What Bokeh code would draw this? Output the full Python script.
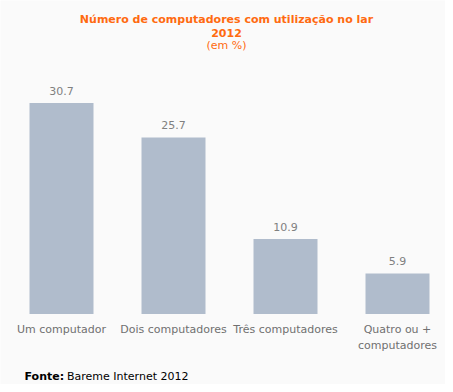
from bokeh.plotting import figure
from bokeh.models import Range1d, Label, ColumnDataSource
from bokeh.embed import file_html
from bokeh.resources import INLINE
from bokeh.core.properties import value

categories = ["Um computador", "Dois computadores", "Três computadores", "Quatro ou +\ncomputadores"]
values = [30.7, 25.7, 10.9, 5.9]
value_labels = ["30.7", "25.7", "10.9", "5.9"]

W, H = 445, 384
px_per_cat = 112.0
px_per_unit = 6.87
x_start = -61.0 / px_per_cat
y_start = -(H - 313.5) / px_per_unit

p = figure(width=W, height=H, output_backend="svg", toolbar_location=None,
           x_range=Range1d(x_start, x_start + W / px_per_cat),
           y_range=Range1d(y_start, y_start + H / px_per_unit),
           min_border=0, outline_line_color=None,
           background_fill_color="#fafafa", border_fill_color="#fafafa")
p.axis.visible = False
p.grid.visible = False

idx = list(range(len(categories)))
src = ColumnDataSource(dict(x=idx, top=values, cat=categories, lab=value_labels,
                            zero=[0] * len(idx)))

p.vbar(x="x", top="top", bottom=0, width=64 / px_per_cat, source=src,
       fill_color="#b0bccc", line_color=None)

font = value("DejaVu Sans")
p.text(x="x", y="top", text="lab", source=src, text_align="center",
       text_baseline="middle", y_offset=-12, text_font=font,
       text_font_size="11px", text_color="#808080")
p.text(x="x", y="zero", text="cat", source=src, text_align="center",
       text_baseline="top", y_offset=9, text_font=font,
       text_font_size="11px", text_color="#707070", text_line_height=1.2)

title_color = "#ff6a10"
cx = 226
p.add_layout(Label(x=cx, y=H - 19, x_units="screen", y_units="screen",
                   text="Número de computadores com utilização no lar",
                   text_align="center", text_baseline="middle",
                   text_font="DejaVu Sans", text_font_size="11px",
                   text_font_style="bold", text_color=title_color))
p.add_layout(Label(x=cx, y=H - 32, x_units="screen", y_units="screen",
                   text="2012", text_align="center", text_baseline="middle",
                   text_font="DejaVu Sans", text_font_size="11px",
                   text_font_style="bold", text_color=title_color))
p.add_layout(Label(x=cx, y=H - 45, x_units="screen", y_units="screen",
                   text="(em %)", text_align="center", text_baseline="middle",
                   text_font="DejaVu Sans", text_font_size="11px",
                   text_color=title_color))

p.add_layout(Label(x=24, y=H - 376, x_units="screen", y_units="screen",
                   text="Fonte:", text_align="left", text_baseline="middle",
                   text_font="DejaVu Sans", text_font_size="11px",
                   text_font_style="bold", text_color="#000000"))
p.add_layout(Label(x=66.5, y=H - 376, x_units="screen", y_units="screen",
                   text="Bareme Internet 2012", text_align="left", text_baseline="middle",
                   text_font="DejaVu Sans", text_font_size="11px",
                   text_color="#000000"))

open("out.html", "w").write(file_html(p, INLINE))
